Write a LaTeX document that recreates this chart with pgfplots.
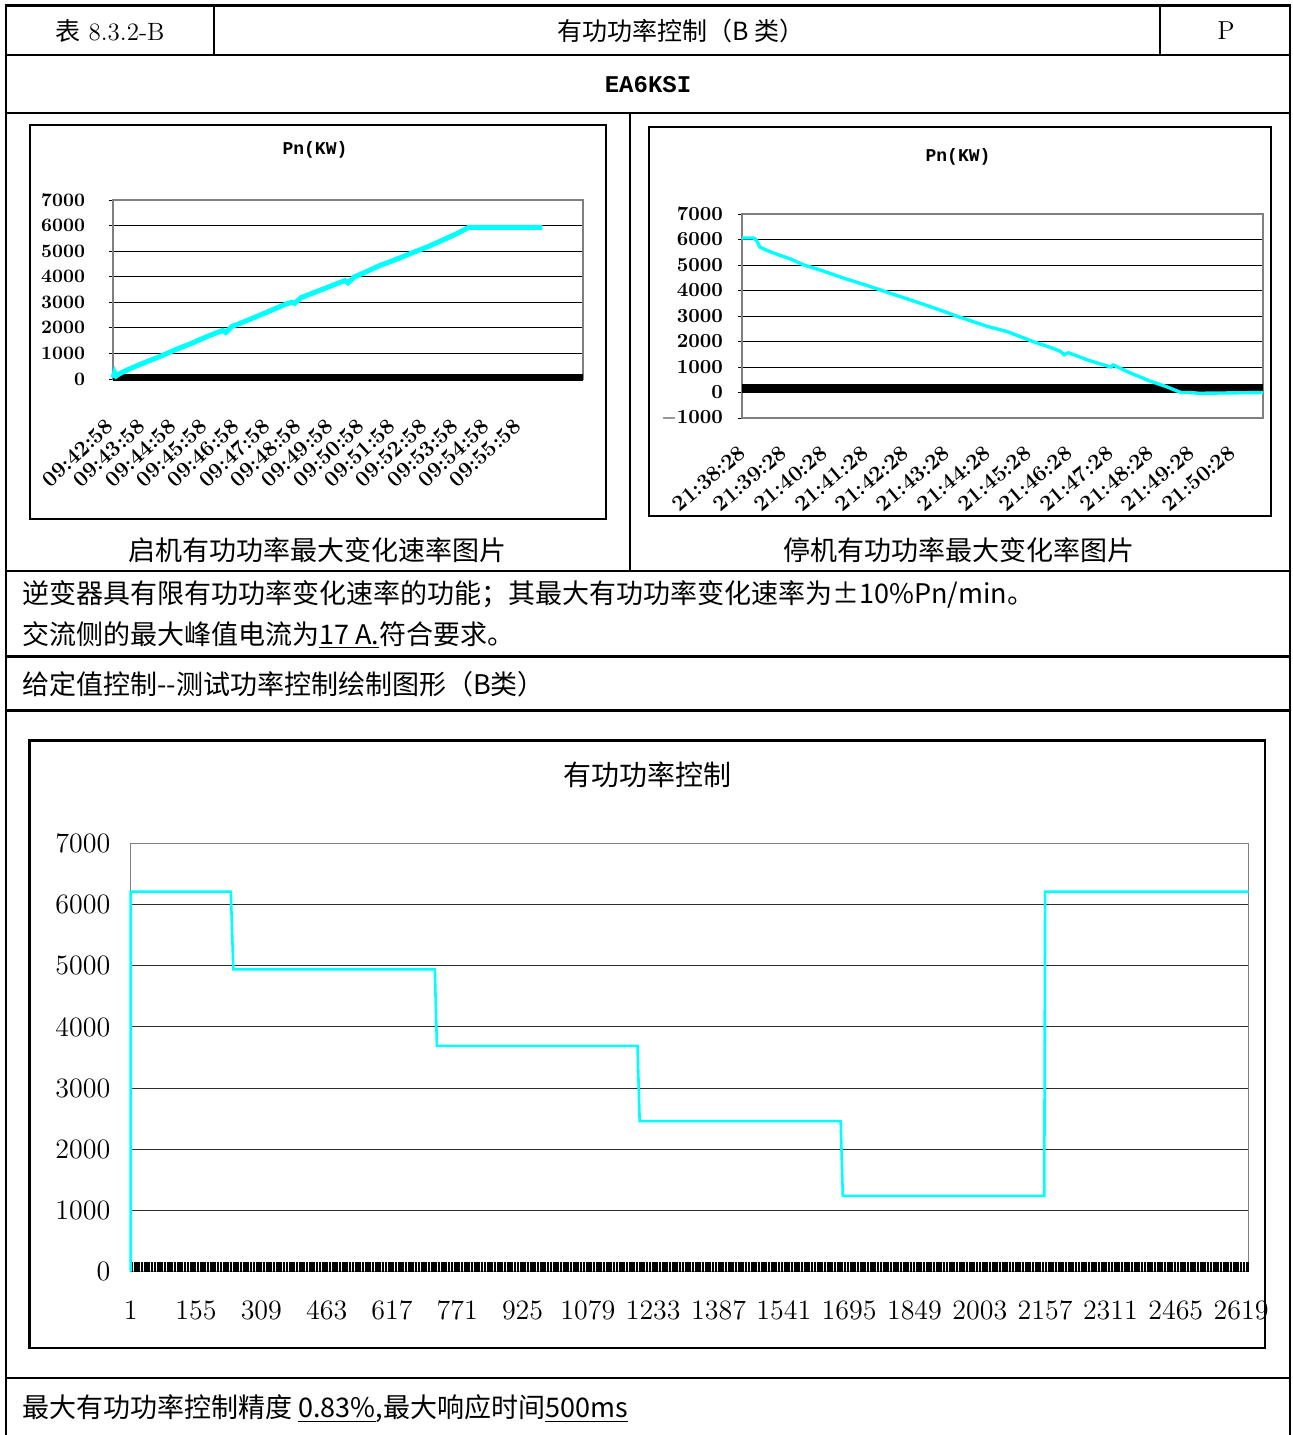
\documentclass[border=0pt]{standalone}
\usepackage{fontspec}
\usepackage{pgfplots}
\pgfplotsset{compat=1.18}
\newfontfamily\cjk{Noto Sans CJK SC}
\newfontfamily\mono{Liberation Mono}
\definecolor{cy}{RGB}{0,255,255}
\definecolor{gridc}{RGB}{45,45,45}
\definecolor{bordc}{RGB}{128,128,128}
\pgfplotsset{
  smallax/.style={scale only axis, anchor=south west, clip=false,
    axis line style={draw=bordc, line width=0.7pt},
    ymajorgrids, grid style={black, line width=0.5pt},
    tick pos=left,
    xtick style={draw=none}, ytick style={draw=black, line width=0.5pt},
    major tick length=2pt, tick align=outside},
}
\begin{document}
\begin{tikzpicture}
\begin{scope}[x=0.5pt,y=-0.5pt]
\path[use as bounding box] (0,0) rectangle (1292,1435);
% table frame
\draw[line width=1pt] (6,5) -- (6,1435);
\draw[line width=1pt] (1290,5) -- (1290,1435);
\foreach \yy in {5.5,55,113,571,656.5,710.5,1378}{
  \draw[line width=1.4pt] (5,\yy) -- (1291,\yy);
}
\draw[line width=0.9pt] (214,5) -- (214,55);
\draw[line width=0.9pt] (1160,5) -- (1160,55);
\draw[line width=0.9pt] (630,113) -- (630,571);
% chart boxes
\draw[line width=1pt] (29.5,125) rectangle (606,518.5);
\draw[line width=1pt] (649,127) rectangle (1271,516);
\draw[line width=1.1pt] (29.5,740.5) rectangle (1265,1348);
% header texts
\node[font=\fontsize{12.5}{14}\selectfont] at (110,31) {{\cjk 表} 8.3.2-B};
\node[font={\cjk\fontsize{12.5}{14}\selectfont}] at (681,31) {有功功率控制（B 类）};
\node[font=\fontsize{13}{15}\selectfont] at (1226,31) {P};
\node[font={\mono\bfseries\fontsize{12}{14}\selectfont}] at (648,85) {EA6KSI};
% chart titles
\node[font={\mono\bfseries\fontsize{9}{11}\selectfont}] at (315,150) {Pn(KW)};
\node[font={\mono\bfseries\fontsize{9}{11}\selectfont}] at (958,157) {Pn(KW)};
\node[font={\cjk\fontsize{14}{16}\selectfont}] at (647,775) {有功功率控制};
% captions
\node[font={\cjk\fontsize{13.5}{16}\selectfont}] at (317,550) {启机有功功率最大变化速率图片};
\node[font={\cjk\fontsize{13.5}{16}\selectfont}] at (959,550) {停机有功功率最大变化率图片};
% rows
\node[font={\cjk\fontsize{13.5}{16}\selectfont}, anchor=west, inner sep=0pt] at (22,594) {逆变器具有限有功功率变化速率的功能；其最大有功功率变化速率为±10\%Pn/min。};
\node[font={\cjk\fontsize{13.5}{16}\selectfont}, anchor=west, inner sep=0pt] at (22,635) {交流侧的最大峰值电流为\underline{17 A.}符合要求。};
\node[font={\cjk\fontsize{13.5}{16}\selectfont}, anchor=west, inner sep=0pt] at (22,684) {给定值控制-{}-测试功率控制绘制图形（B类）};
\node[font={\cjk\fontsize{13.5}{16}\selectfont}, anchor=west, inner sep=0pt] at (22,1409) {最大有功功率控制精度 \underline{0.83\%},最大响应时间\underline{500ms}};
\end{scope}

% ---------------- left chart ----------------
\begin{axis}[smallax, at={(56.5pt,-189.5pt)}, width=235pt, height=89.5pt,
  xmin=0, xmax=15, ymin=0, ymax=7000,
  ytick={0,1000,2000,3000,4000,5000,6000,7000},
  yticklabels={0,1000,2000,3000,4000,5000,6000,7000},
  xtick={0,1,2,3,4,5,6,7,8,9,10,11,12,13},
  xticklabels={09:42:58,09:43:58,09:44:58,09:45:58,09:46:58,09:47:58,09:48:58,09:49:58,09:50:58,09:51:58,09:52:58,09:53:58,09:54:58,09:55:58},
  yticklabel style={font=\bfseries\fontsize{9.5}{10}\selectfont, xshift=-8.5pt},
  xticklabel style={font=\bfseries\fontsize{11}{12}\selectfont, xshift=-4pt, yshift=-17pt, rotate=43, anchor=north east, inner sep=0pt},
]
\addplot[black, line width=3.5pt] coordinates {(0,40) (15,40)};
\addplot[cy, line width=2.5pt] coordinates {
(0,50) (0.05,250) (0.1,120) (0.2,200) (0.5,380) (1.0,640) (1.5,880) (2.0,1150)
(2.5,1390) (3.0,1660) (3.5,1900) (3.6,1820) (3.8,2060) (4.0,2150) (4.5,2400)
(5.0,2660) (5.5,2920) (5.7,3000) (5.8,2960) (6.0,3180) (6.5,3420) (7.0,3660)
(7.4,3850) (7.5,3760) (7.7,3990) (8.0,4150) (8.5,4430) (9.0,4660) (9.5,4910)
(10.0,5150) (10.5,5420) (11.0,5700) (11.35,5930) (13.7,5930)};
\end{axis}

% ---------------- right chart ----------------
\begin{axis}[smallax, at={(371pt,-209pt)}, width=260.5pt, height=102pt,
  xmin=0, xmax=12.77, ymin=-1000, ymax=7000,
  ytick={-1000,0,1000,2000,3000,4000,5000,6000,7000},
  yticklabels={$-$1000,0,1000,2000,3000,4000,5000,6000,7000},
  xtick={0,1,2,3,4,5,6,7,8,9,10,11,12},
  xticklabels={21:38:28,21:39:28,21:40:28,21:41:28,21:42:28,21:43:28,21:44:28,21:45:28,21:46:28,21:47:28,21:48:28,21:49:28,21:50:28},
  yticklabel style={font=\bfseries\fontsize{10}{11}\selectfont, xshift=-4pt},
  xticklabel style={font=\bfseries\fontsize{11}{12}\selectfont, xshift=-2pt, yshift=-11pt, rotate=40, anchor=north east, inner sep=0pt},
]
\addplot[black, line width=4.5pt] coordinates {(0,157) (12.77,157)};
\addplot[cy, line width=1.7pt] coordinates {
(0,6060) (0.29,6060) (0.36,5950) (0.44,5700) (0.6,5580) (0.86,5420) (1.2,5230)
(1.52,5000) (2.0,4760) (2.5,4480) (3.0,4230) (3.43,4000) (4.0,3700) (4.5,3430)
(5.0,3150) (5.25,3000) (5.5,2870) (6.0,2600) (6.5,2390) (7.13,2000) (7.5,1800)
(7.8,1620) (7.9,1480) (8.0,1560) (8.5,1260) (9.04,1000) (9.1,1080) (9.5,780)
(10.0,450) (10.4,230) (10.76,0) (11.0,0) (11.2,-30) (12.77,0)};
\end{axis}

% ---------------- big chart ----------------
\begin{axis}[scale only axis, anchor=south west, clip=false,
  at={(65.35pt,-635.85pt)}, width=559pt, height=214.2pt,
  xmin=1, xmax=2637, ymin=0, ymax=7000,
  axis line style={draw=bordc, line width=0.7pt},
  ymajorgrids, grid style={gridc, line width=0.5pt},
  tick style={draw=none},
  ytick={0,1000,2000,3000,4000,5000,6000,7000},
  yticklabels={0,1000,2000,3000,4000,5000,6000,7000},
  xtick={1,155,309,463,617,771,925,1079,1233,1387,1541,1695,1849,2003,2157,2311,2465,2619},
  xticklabels={1,155,309,463,617,771,925,1079,1233,1387,1541,1695,1849,2003,2157,2311,2465,2619},
  yticklabel style={font=\fontsize{14}{16}\selectfont, xshift=-6.7pt},
  xticklabel style={font=\fontsize{14}{16}\selectfont, yshift=-11pt},
]
\addplot[black, line width=4.75pt, dash pattern=on 1.3pt off 0.35pt] coordinates {(1,77) (2637,77)};
\addplot[cy, line width=1.3pt] coordinates {
(1,0) (1,6210) (237,6210) (243,4940) (718,4940) (723,3690) (1196,3690) (1201,2460)
(1675,2460) (1680,1240) (2155,1240) (2157,6210) (2637,6210)};
\end{axis}
\end{tikzpicture}
\end{document}
